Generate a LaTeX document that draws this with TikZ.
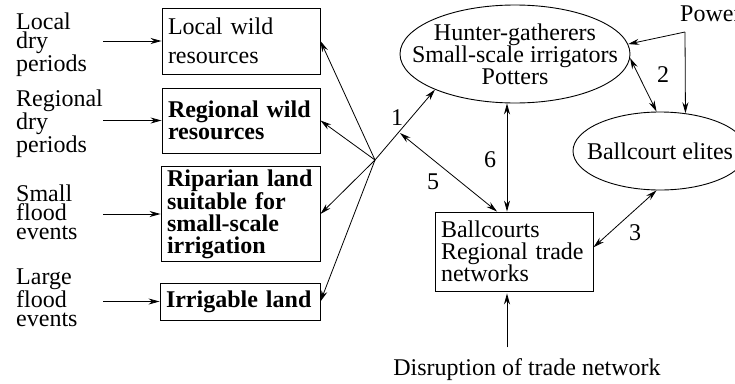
\documentclass[tikz,border=0pt]{standalone}
\usepackage{fontspec}
\setmainfont{Liberation Serif}
\usetikzlibrary{positioning, arrows.meta, shapes.geometric}

\begin{document}
\begin{tikzpicture}[x=1pt, y=-1pt,
    font=\fontsize{24}{22}\selectfont,
    BoxStyle/.style={draw, line width=0.9pt, align=left, inner xsep=6pt, text width=146pt},
    BoldBox/.style={BoxStyle, font=\fontsize{24}{22}\selectfont\bfseries},
    EllStyle/.style={draw, ellipse, line width=0.9pt, align=center, inner xsep=-30pt, inner ysep=-6pt},
    SideStyle/.style={anchor=west, align=left, inner sep=0pt, text width=87pt,
                font=\fontsize{24}{19}\selectfont},
    ArrStyle/.style={-{Stealth[length=11pt, width=6pt]}, line width=0.8pt},
    BothStyle/.style={{Stealth[length=11pt, width=6pt]}-{Stealth[length=11pt, width=6pt]}, line width=0.8pt},
  ]
\useasboundingbox (0,0) rectangle (735,383);

\node[BoxStyle, minimum height=66pt] (LocWild) at (241,41) {Local wild\\[7pt]resources};
\node[BoldBox, minimum height=65pt] (RegWild) at (241,120.5) {Regional wild\\resources};
\node[BoldBox, text width=147pt, minimum height=92pt] (Riparian) at (240.5,214) {Riparian land\\suitable for\\small-scale\\irrigation};
\node[BoldBox, text width=148pt, minimum height=37pt] (IrrLand) at (240,301.5) {Irrigable land};

\node[SideStyle] (LocDry) at (16,45) {Local\\dry\\periods};
\node[SideStyle] (RegDry) at (16,124) {Regional\\dry\\periods};
\node[SideStyle] (SmallFlood) at (16,212) {Small\\flood\\events};
\node[SideStyle] (LargeFlood) at (16,298) {Large\\flood\\events};

\draw[ArrStyle] (LocDry.east |- LocWild.west) -- (LocWild.west);
\draw[ArrStyle] (RegDry.east |- RegWild.west) -- (RegWild.west);
\draw[ArrStyle] (SmallFlood.east |- Riparian.west) -- (Riparian.west);
\draw[ArrStyle] (LargeFlood.east |- IrrLand.west) -- (IrrLand.west);

\node[EllStyle, minimum width=230pt, minimum height=98pt] (Groups) at (515,54)
  {Hunter-gatherers\\Small-scale irrigators\\Potters};
\node[EllStyle, minimum width=174pt, minimum height=78pt] (Elites) at (660,151) {Ballcourt elites};
\node[BoxStyle, minimum height=79pt] (Trade) at (514,251.5) {Ballcourts\\Regional trade\\networks};
\node (Disrupt) at (527,370) {Disruption of trade network};
\node[anchor=west, inner sep=0pt] (Power) at (680,14) {Power};

\coordinate (Hub) at (375,160);
\coordinate (FiveEnd) at (400,133);
\coordinate (PowPt) at (685,32);

\draw[ArrStyle] (Hub) -- (LocWild.east);
\draw[ArrStyle] (Hub) -- (RegWild.east);
\draw[ArrStyle] (Hub) -- (Riparian.east);
\draw[ArrStyle] (Hub) -- (IrrLand.east);
\draw[ArrStyle] (Hub) -- (Groups.204);
\draw[BothStyle] (FiveEnd) -- (Trade.113);
\draw[BothStyle] ([xshift=-8pt]Groups.south) -- ([xshift=-7pt]Trade.north);
\draw[BothStyle] (Groups.-2) -- (Elites.95);
\draw[BothStyle] (Trade.3) -- (Elites.265);
\draw[ArrStyle] (PowPt) -- (Groups.5);
\draw[ArrStyle] (PowPt) -- (Elites.56);
\draw[ArrStyle] ([xshift=-20pt, yshift=8pt]Disrupt.north) -- ([xshift=-7pt, yshift=-2pt]Trade.south);

\node (L1) at (397,118) {1};
\node (L2) at (663,75) {2};
\node (L3) at (635,233) {3};
\node (L5) at (433,182) {5};
\node (L6) at (490,160) {6};
\end{tikzpicture}
\end{document}
